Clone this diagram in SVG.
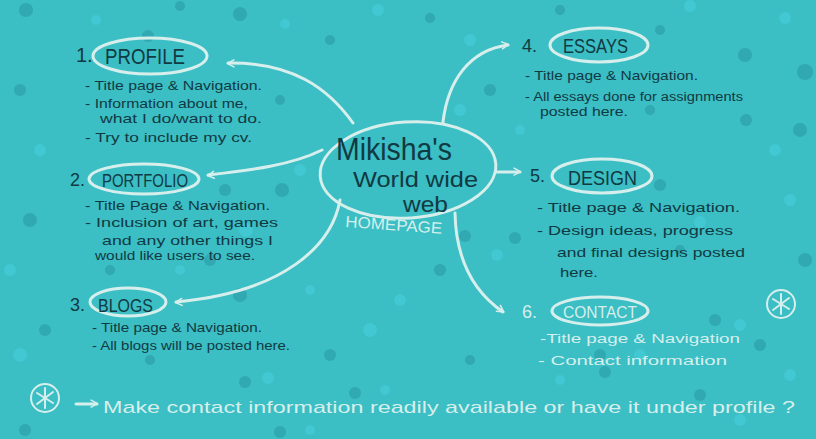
<svg xmlns="http://www.w3.org/2000/svg" width="816" height="439" viewBox="0 0 816 439">
<style>
.bg{fill:#3bbec4}
.dk{fill:#2a97a6;opacity:.55}
.lt{fill:#48cfdc;opacity:.6}
.oval{fill:none;stroke:#d6efec;stroke-width:3}
.line{fill:none;stroke:#d6efec;stroke-width:3;stroke-linecap:round}
.t{font-family:"Liberation Sans",Arial,sans-serif;fill:#113a43}
.tl{font-family:"Liberation Sans",Arial,sans-serif;fill:#d6efec}
.b{font-size:13px}
.s{font-size:12px}
</style>
<defs>
<marker id="arr" viewBox="0 0 12 12" refX="10" refY="6" markerWidth="5" markerHeight="5" orient="auto" markerUnits="userSpaceOnUse" style="overflow:visible">
<path d="M0,0 L11,6 L0,12" fill="none" stroke="#d6efec" stroke-width="2.6" stroke-linecap="round" stroke-linejoin="round" transform="scale(1.4) translate(-3,-2.5)"/>
</marker>
</defs>
<rect class="bg" x="0" y="0" width="816" height="439"/>
<g id="dots">
<circle class="dk" cx="26" cy="10" r="7"/><circle class="lt" cx="96" cy="20" r="5"/><circle class="dk" cx="148" cy="36" r="6"/><circle class="dk" cx="240" cy="14" r="7"/><circle class="lt" cx="285" cy="24" r="5"/><circle class="dk" cx="180" cy="6" r="5"/><circle class="dk" cx="330" cy="40" r="5"/><circle class="lt" cx="378" cy="10" r="6"/><circle class="dk" cx="430" cy="18" r="5"/><circle class="lt" cx="470" cy="40" r="6"/><circle class="dk" cx="560" cy="10" r="5"/><circle class="dk" cx="660" cy="30" r="5"/><circle class="lt" cx="690" cy="6" r="6"/><circle class="dk" cx="745" cy="55" r="7"/><circle class="lt" cx="785" cy="18" r="6"/><circle class="dk" cx="805" cy="72" r="8"/><circle class="dk" cx="20" cy="90" r="6"/><circle class="lt" cx="40" cy="150" r="6"/><circle class="dk" cx="30" cy="220" r="7"/><circle class="lt" cx="10" cy="270" r="6"/><circle class="dk" cx="45" cy="330" r="6"/><circle class="lt" cx="20" cy="355" r="7"/><circle class="dk" cx="280" cy="100" r="5"/><circle class="lt" cx="300" cy="170" r="6"/><circle class="dk" cx="282" cy="190" r="7"/><circle class="dk" cx="225" cy="190" r="6"/><circle class="lt" cx="246" cy="230" r="7"/><circle class="dk" cx="210" cy="260" r="6"/><circle class="dk" cx="240" cy="295" r="7"/><circle class="lt" cx="310" cy="290" r="5"/><circle class="dk" cx="330" cy="355" r="6"/><circle class="lt" cx="370" cy="330" r="7"/><circle class="dk" cx="440" cy="270" r="6"/><circle class="dk" cx="465" cy="236" r="6"/><circle class="lt" cx="400" cy="300" r="6"/><circle class="dk" cx="470" cy="360" r="5"/><circle class="lt" cx="460" cy="110" r="6"/><circle class="dk" cx="490" cy="90" r="6"/><circle class="dk" cx="515" cy="238" r="6"/><circle class="lt" cx="497" cy="255" r="6"/><circle class="dk" cx="660" cy="185" r="6"/><circle class="dk" cx="680" cy="250" r="5"/><circle class="lt" cx="700" cy="222" r="6"/><circle class="dk" cx="746" cy="120" r="6"/><circle class="lt" cx="775" cy="150" r="6"/><circle class="dk" cx="800" cy="130" r="7"/><circle class="lt" cx="790" cy="200" r="6"/><circle class="dk" cx="805" cy="260" r="7"/><circle class="lt" cx="740" cy="325" r="6"/><circle class="dk" cx="715" cy="320" r="6"/><circle class="dk" cx="760" cy="345" r="6"/><circle class="lt" cx="640" cy="355" r="6"/><circle class="dk" cx="600" cy="355" r="6"/><circle class="lt" cx="560" cy="380" r="5"/><circle class="dk" cx="245" cy="382" r="6"/><circle class="lt" cx="268" cy="378" r="6"/><circle class="dk" cx="355" cy="393" r="6"/><circle class="lt" cx="385" cy="390" r="5"/><circle class="dk" cx="605" cy="372" r="6"/><circle class="lt" cx="740" cy="420" r="6"/><circle class="dk" cx="280" cy="432" r="6"/><circle class="lt" cx="310" cy="430" r="5"/><circle class="dk" cx="25" cy="430" r="6"/><circle class="dk" cx="700" cy="395" r="6"/><circle class="lt" cx="790" cy="375" r="6"/><circle class="dk" cx="150" cy="360" r="5"/><circle class="lt" cx="180" cy="270" r="5"/><circle class="dk" cx="110" cy="270" r="5"/><circle class="dk" cx="650" cy="110" r="5"/><circle class="lt" cx="520" cy="130" r="5"/>
</g>
<g id="connectors">
<path class="line" d="M353,123 C328,88 292,62 228,63" marker-end="url(#arr)"/>
<path class="line" d="M322,150 C292,165 252,170 208,175" marker-end="url(#arr)"/>
<path class="line" d="M340,200 C332,245 285,292 176,302" marker-end="url(#arr)"/>
<path class="line" d="M443,122 C448,80 470,50 508,45" marker-end="url(#arr)"/>
<path class="line" d="M496,172 L520,172" marker-end="url(#arr)"/>
<path class="line" d="M455,213 C456,260 474,292 503,312" marker-end="url(#arr)"/>
</g>
<g id="homepage">
<ellipse class="oval" cx="408" cy="170" rx="88" ry="48" transform="rotate(-4 408 170)"/>
<text class="t" x="336" y="160" font-size="32" textLength="116" lengthAdjust="spacingAndGlyphs">Mikisha's</text>
<text class="t" x="353" y="187" font-size="22" textLength="125" lengthAdjust="spacingAndGlyphs">World wide</text>
<text class="t" x="403" y="212" font-size="22" textLength="45" lengthAdjust="spacingAndGlyphs">web</text>
<text class="tl" x="345" y="227" font-size="16" textLength="97" lengthAdjust="spacingAndGlyphs" transform="rotate(4 345 227)">HOMEPAGE</text>
</g>
<g id="profile">
<text class="t" x="76" y="62" font-size="20">1.</text>
<ellipse class="oval" cx="150" cy="56" rx="57" ry="18"/>
<text class="t" x="105" y="64" font-size="22" textLength="80" lengthAdjust="spacingAndGlyphs">PROFILE</text>
<text class="t b" x="85" y="90" textLength="177" lengthAdjust="spacingAndGlyphs">- Title page &amp; Navigation.</text>
<text class="t b" x="85" y="108" textLength="163" lengthAdjust="spacingAndGlyphs">- Information about me,</text>
<text class="t b" x="100" y="123" textLength="162" lengthAdjust="spacingAndGlyphs">what I do/want to do.</text>
<text class="t b" x="85" y="142" textLength="167" lengthAdjust="spacingAndGlyphs">- Try to include my cv.</text>
</g>
<g id="portfolio">
<text class="t" x="70" y="186" font-size="18">2.</text>
<ellipse class="oval" cx="144" cy="179" rx="55" ry="15"/>
<text class="t" x="102" y="187" font-size="19" textLength="86" lengthAdjust="spacingAndGlyphs">PORTFOLIO</text>
<text class="t b" x="85" y="210" textLength="185" lengthAdjust="spacingAndGlyphs">- Title Page &amp; Navigation.</text>
<text class="t b" x="85" y="227" textLength="193" lengthAdjust="spacingAndGlyphs">- Inclusion of art, games</text>
<text class="t b" x="102" y="245" textLength="171" lengthAdjust="spacingAndGlyphs">and any other things I</text>
<text class="t b" x="95" y="260" textLength="160" lengthAdjust="spacingAndGlyphs">would like users to see.</text>
</g>
<g id="blogs">
<text class="t" x="70" y="311" font-size="18">3.</text>
<ellipse class="oval" cx="128" cy="302" rx="38" ry="14"/>
<text class="t" x="98" y="312" font-size="19" textLength="55" lengthAdjust="spacingAndGlyphs">BLOGS</text>
<text class="t b" x="92" y="332" textLength="170" lengthAdjust="spacingAndGlyphs">- Title page &amp; Navigation.</text>
<text class="t b" x="92" y="350" textLength="198" lengthAdjust="spacingAndGlyphs">- All blogs will be posted here.</text>
</g>
<g id="essays">
<text class="t" x="522" y="52" font-size="18">4.</text>
<ellipse class="oval" cx="599" cy="45" rx="49" ry="17"/>
<text class="t" x="563" y="53" font-size="21" textLength="65" lengthAdjust="spacingAndGlyphs">ESSAYS</text>
<text class="t b" x="525" y="80" textLength="173" lengthAdjust="spacingAndGlyphs">- Title page &amp; Navigation.</text>
<text class="t s" x="525" y="101" textLength="218" lengthAdjust="spacingAndGlyphs">- All essays done for assignments</text>
<text class="t s" x="540" y="116" textLength="88" lengthAdjust="spacingAndGlyphs">posted here.</text>
</g>
<g id="design">
<text class="t" x="530" y="182" font-size="18">5.</text>
<ellipse class="oval" cx="602" cy="176" rx="50" ry="17"/>
<text class="t" x="568" y="185" font-size="21" textLength="69" lengthAdjust="spacingAndGlyphs">DESIGN</text>
<text class="t b" x="537" y="212" textLength="203" lengthAdjust="spacingAndGlyphs">- Title page &amp; Navigation.</text>
<text class="t b" x="537" y="235" textLength="196" lengthAdjust="spacingAndGlyphs">- Design ideas, progress</text>
<text class="t b" x="557" y="257" textLength="188" lengthAdjust="spacingAndGlyphs">and final designs posted</text>
<text class="t b" x="560" y="277" textLength="38" lengthAdjust="spacingAndGlyphs">here.</text>
</g>
<g id="contact">
<text class="tl" x="522" y="318" font-size="18">6.</text>
<ellipse class="oval" cx="600" cy="311" rx="48" ry="14"/>
<text class="tl" x="563" y="318" font-size="16" textLength="74" lengthAdjust="spacingAndGlyphs">CONTACT</text>
<text class="tl b" x="540" y="343" textLength="200" lengthAdjust="spacingAndGlyphs">-Title page &amp; Navigation</text>
<text class="tl b" x="538" y="365" textLength="189" lengthAdjust="spacingAndGlyphs">- Contact information</text>
<circle cx="781" cy="304" r="14" fill="none" stroke="#d6efec" stroke-width="2"/>
<path d="M781,294 L781,314 M773,299 L789,309 M789,298 L773,310" fill="none" stroke="#d6efec" stroke-width="2" stroke-linecap="round"/>
</g>
<g id="note">
<circle cx="45" cy="398" r="14" fill="none" stroke="#d6efec" stroke-width="2"/>
<path d="M45,388 L45,408 M37,393 L53,403 M53,392 L37,404" fill="none" stroke="#d6efec" stroke-width="2" stroke-linecap="round"/>
<path class="line" d="M76,404 L97,404" stroke-width="2" marker-end="url(#arr)"/>
<text class="tl" x="103" y="413" font-size="17" textLength="692" lengthAdjust="spacingAndGlyphs">Make contact information readily available or have it under profile ?</text>
</g>
</svg>
